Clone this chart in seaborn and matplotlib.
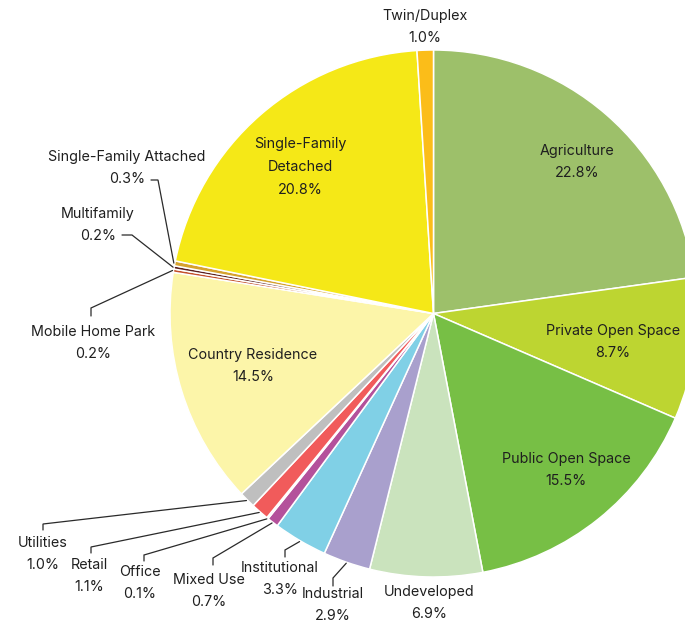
import numpy as np
import matplotlib
matplotlib.use("Agg")
import matplotlib.pyplot as plt
import seaborn as sns

# Land use shares (percent), clockwise from 12 o'clock
categories = [
    "Agriculture", "Private Open Space", "Public Open Space", "Undeveloped",
    "Industrial", "Institutional", "Mixed Use", "Office", "Retail", "Utilities",
    "Country Residence", "Mobile Home Park", "Multifamily",
    "Single-Family Attached", "Single-Family Detached", "Twin/Duplex",
]
shares = [22.8, 8.7, 15.5, 6.9, 2.9, 3.3, 0.7, 0.1, 1.1, 1.0,
          14.5, 0.2, 0.2, 0.3, 20.8, 1.0]
colors = [
    "#9dc06a", "#bdd531", "#77bf45", "#cae3bd", "#a9a0cd", "#80d0e6",
    "#b4519b", "#f3c5cc", "#f15b5b", "#bfbfbf", "#fcf5a9", "#c4502b",
    "#5a1f1f", "#d6a22e", "#f5e817", "#fbbd19",
]

sns.set_theme(style="white")
plt.rcParams["font.family"] = ["Inter", "DejaVu Sans"]

W, H = 685, 623
fig = plt.figure(figsize=(W / 100, H / 100), dpi=100)
ax = fig.add_axes([0, 0, 1, 1])


def P(x, y):
    """Pixel coordinates (origin top-left) to axis coordinates."""
    return x, H - y


cx, cy = P(433.5, 313.5)
R = 263.5

ax.pie(shares, colors=colors, startangle=90, counterclock=False,
       center=(cx, cy), radius=R, frame=True,
       wedgeprops=dict(edgecolor="white", linewidth=1.1))
ax.set_xlim(0, W)
ax.set_ylim(0, H)
ax.set_aspect("equal")
ax.set_axis_off()

TXT = "#1f1f1f"
FS = 10.3


def label(x, y, text):
    ax.text(*P(x, y), text, ha="center", va="center", fontsize=FS,
            color=TXT, linespacing=1.8)


def fmt(i):
    return f"{shares[i]:.1f}%"


idx = {c: i for i, c in enumerate(categories)}

# Labels placed inside the larger wedges
inside = {
    "Agriculture": (577, 162, "Agriculture"),
    "Private Open Space": (613, 342, "Private Open Space"),
    "Public Open Space": (566, 470, "Public Open Space"),
    "Country Residence": (253, 366, "Country Residence"),
    "Single-Family Detached": (300, 167, "Single-Family\nDetached"),
}
for cat, (x, y, name) in inside.items():
    label(x, y, f"{name}\n{fmt(idx[cat])}")

# Labels outside without leader lines
label(425, 27, f"Twin/Duplex\n{fmt(idx['Twin/Duplex'])}")
label(429, 603, f"Undeveloped\n{fmt(idx['Undeveloped'])}")

# Mid-angle of each wedge (degrees clockwise from top)
cum = np.cumsum([0] + shares)
total = cum[-1]
mid = {c: (cum[i] + cum[i + 1]) / 2 / total * 360 for i, c in enumerate(categories)}


def edge_point(cat, extra=0.0):
    th = np.deg2rad(mid[cat])
    return cx + (R + extra) * np.sin(th), cy + (R + extra) * np.cos(th)


# Outside labels with leader lines: (elbow, end of line, text center)
leaders = {
    "Utilities": ((43, 524), (43, 530), (43, 554)),
    "Retail": ((91, 547), (91, 553), (89, 576)),
    "Office": ((144, 555), (144, 561), (140, 583)),
    "Mixed Use": ((213, 558), (213, 565), (209, 591)),
    "Institutional": ((285, 550), (285, 557), (280, 579)),
    "Industrial": ((333, 578), (333, 586), (333, 605)),
    "Mobile Home Park": ((91, 308), (91, 316), (93, 343)),
    "Multifamily": ((132, 235), (122, 235), (98, 225)),
    "Single-Family Attached": ((158, 180), (151, 180), (127, 168)),
}
for cat, (elbow, end, tc) in leaders.items():
    x0, y0 = edge_point(cat, 1.0)
    x1, y1 = P(*elbow)
    x2, y2 = P(*end)
    ax.plot([x0, x1, x2], [y0, y1, y2], color="#2a2a2a", lw=0.9,
            solid_joinstyle="miter", zorder=5)
    label(tc[0], tc[1], f"{cat}\n{fmt(idx[cat])}")

fig.savefig("out.png", dpi=100)
